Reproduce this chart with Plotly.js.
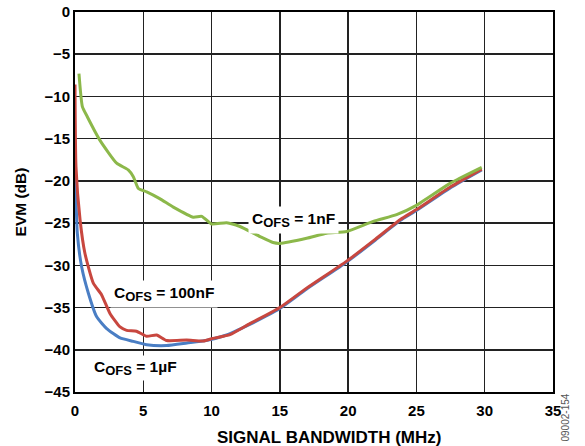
<!DOCTYPE html>
<html><head><meta charset="utf-8">
<script src="https://cdn.plot.ly/plotly-3.0.1.min.js"></script>
<style>html,body{margin:0;padding:0;background:#fff}#chart{width:585px;height:446px}</style>
</head><body><div id="chart"></div>
<script>
const x1nF = [0.29,0.54,0.9,1.83,3.05,3.9,4.27,4.64,5.25,6.2,7.2,8.66,9.28,10.0,11.1,12.08,13.55,14.5,15.0,16.96,18.43,19.9,21.84,23.55,25.0,27.46,29.78];
const y1nF = [-7.3,-11.2,-12.4,-15.2,-17.9,-18.7,-19.5,-20.9,-21.3,-22.1,-23.1,-24.3,-24.2,-25.1,-24.95,-25.4,-26.6,-27.3,-27.4,-26.8,-26.2,-26.0,-24.8,-24.0,-22.9,-20.3,-18.4];

const x100nF = [0,0.07,0.37,0.73,1.34,1.95,2.56,3.3,3.78,4.5,5.25,5.98,6.71,8.18,9.4,10.1,11.35,12.8,14.0,15.0,16.96,19.9,22.0,23.8,25.0,27.5,29.78];
const y100nF = [-8.6,-18.3,-24.6,-28.6,-32.1,-33.5,-35.7,-37.3,-37.7,-37.8,-38.4,-38.25,-38.9,-38.85,-38.96,-38.65,-38.2,-36.9,-35.9,-35.0,-32.7,-29.5,-26.9,-24.6,-23.4,-20.7,-18.6];

const x1uF = [0,0.17,0.49,0.98,1.59,2.32,3.3,4.27,5.25,6.7,8.2,9.6,11.1,12.8,14.0,15.0,16.96,19.9,22.0,23.8,25.0,27.5,29.78];
const y1uF = [-17.5,-26.2,-30.2,-33.3,-36.1,-37.5,-38.6,-39.0,-39.4,-39.5,-39.2,-38.9,-38.25,-37.0,-36.0,-35.1,-32.8,-29.6,-27.0,-24.7,-23.5,-20.8,-18.7];

const xTicks = [0,5,10,15,20,25,30,35];
const yTicks = [0,-5,-10,-15,-20,-25,-30,-35,-40,-45];
const yTickText = ['0','−5','−10','−15','−20','−25','−30','−35','−40','−45'];

const data = [
  {x:x1uF, y:y1uF, mode:'lines', line:{color:'#4a7ec4', width:3, shape:'spline', smoothing:0.5}, name:'1µF'},
  {x:x100nF, y:y100nF, mode:'lines', line:{color:'#c8473f', width:3, shape:'spline', smoothing:0.5}, name:'100nF'},
  {x:x1nF, y:y1nF, mode:'lines', line:{color:'#8cb84a', width:3, shape:'spline', smoothing:0.5}, name:'1nF'}
];

const fam = 'Liberation Sans, Arial, sans-serif';
const lbl = (v) => '<b>C<sub><span style="font-size:13px">OFS</span></sub> = ' + v + '</b>';
const layout = {
  width:585, height:446,
  margin:{l:75, r:32, t:12, b:54},
  paper_bgcolor:'#fff', plot_bgcolor:'#fff',
  showlegend:false,
  xaxis:{range:[0,35], tickvals:xTicks, ticktext:xTicks.map(String), showgrid:true, gridcolor:'#222', gridwidth:1.5,
    zeroline:false, showline:true, linecolor:'#000', linewidth:2, mirror:true, ticks:'', ticklen:0, ticklabelstandoff:4,
    tickfont:{family:fam, size:15, color:'#000', weight:'bold'}},
  yaxis:{range:[-45,0], tickvals:yTicks, ticktext:yTickText, showgrid:true, gridcolor:'#222', gridwidth:1.5,
    zeroline:false, showline:true, linecolor:'#000', linewidth:2, mirror:true, ticks:'', ticklen:0,
    tickfont:{family:fam, size:15, color:'#000', weight:'bold'},
    title:{text:'<b>EVM (dB)</b>', font:{family:fam, size:15.5, color:'#000'}, standoff:14}},
  annotations:[
    {x:(329-75)/478, y:1-(437-12)/380, xref:'paper', yref:'paper', yanchor:'middle', text:'<b>SIGNAL BANDWIDTH (MHz)</b>', showarrow:false, font:{family:fam,size:17,color:'#000'}},
    {x:16.0, y:-24.6, xref:'x', yref:'y', text:lbl('1nF'), showarrow:false, bgcolor:'#fff', font:{family:fam,size:15.5,color:'#000'}, borderpad:3},
    {x:6.5, y:-33.4, xref:'x', yref:'y', text:lbl('100nF'), showarrow:false, bgcolor:'#fff', font:{family:fam,size:15.5,color:'#000'}, borderpad:3},
    {x:4.4, y:-42.2, xref:'x', yref:'y', text:lbl('1µF'), showarrow:false, bgcolor:'#fff', font:{family:fam,size:15.5,color:'#000'}, borderpad:2},
    {x:(572-75)/478, y:1-(418-12)/380, xref:'paper', yref:'paper', yanchor:'middle', text:'09002-154', showarrow:false, textangle:-90, font:{family:fam,size:10,color:'#555'}}
  ]
};
Plotly.newPlot('chart', data, layout, {displayModeBar:false, staticPlot:true});
</script></body></html>
